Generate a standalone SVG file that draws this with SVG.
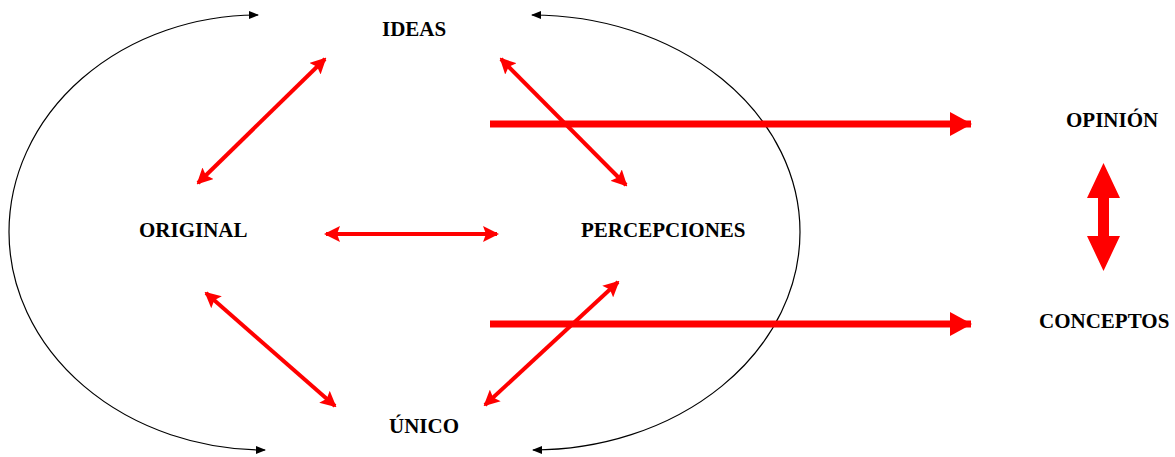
<svg xmlns="http://www.w3.org/2000/svg" width="1175" height="457" viewBox="0 0 1175 457">
<style>
.lbl{font-family:"Liberation Serif","Times New Roman",serif;font-weight:bold;font-size:21px;fill:#000}
.thin{stroke:#ff0000;stroke-width:4;fill:none}
.thick{stroke:#ff0000;stroke-width:7;fill:none}
.arc{stroke:#000;stroke-width:1.2;fill:none}
</style>
<defs>
<marker id="rh" markerUnits="userSpaceOnUse" viewBox="0 0 16 16" refX="14" refY="8" markerWidth="16" markerHeight="16" orient="auto-start-reverse">
<path d="M0,0 L16,8 L0,16 L3,8 Z" fill="#ff0000"/>
</marker>
<marker id="bh" markerUnits="userSpaceOnUse" viewBox="0 0 10 8" refX="9" refY="4" markerWidth="10" markerHeight="8" orient="auto-start-reverse">
<path d="M0,0 L10,4 L0,8 Z" fill="#000"/>
</marker>
<marker id="th" markerUnits="userSpaceOnUse" viewBox="0 0 22 24" refX="21" refY="12" markerWidth="22" markerHeight="24" orient="auto">
<path d="M0,0 L22,12 L0,24 Z" fill="#ff0000"/>
</marker>
</defs>
<g id="connectors">
<path class="arc" d="M258,15 A249,217 0 0 0 9,232 A256,218 0 0 0 265,450" marker-start="url(#bh)" marker-end="url(#bh)"/>
<path class="arc" d="M532,15 A268,217 0 0 1 800,232 A267,218 0 0 1 533,450" marker-start="url(#bh)" marker-end="url(#bh)"/>
<line class="thin" x1="198" y1="183" x2="325" y2="59" marker-start="url(#rh)" marker-end="url(#rh)"/>
<line class="thin" x1="501" y1="59" x2="626" y2="185" marker-start="url(#rh)" marker-end="url(#rh)"/>
<line class="thin" x1="326" y1="234" x2="497" y2="234" marker-start="url(#rh)" marker-end="url(#rh)"/>
<line class="thin" x1="206" y1="293" x2="335" y2="406" marker-start="url(#rh)" marker-end="url(#rh)"/>
<line class="thin" x1="618" y1="282" x2="485" y2="405" marker-start="url(#rh)" marker-end="url(#rh)"/>
<line class="thick" x1="490" y1="124" x2="971" y2="124" marker-end="url(#th)"/>
<line class="thick" x1="490" y1="324" x2="971" y2="324" marker-end="url(#th)"/>
<path d="M1103.5,163 L1120,198 L1109,198 L1109,236 L1120,236 L1103.5,271 L1087,236 L1098,236 L1098,198 L1087,198 Z" fill="#ff0000"/>
</g>
<g id="ideas"><text class="lbl" x="382" y="36">IDEAS</text></g>
<g id="original"><text class="lbl" x="139" y="237">ORIGINAL</text></g>
<g id="percepciones"><text class="lbl" x="581" y="237">PERCEPCIONES</text></g>
<g id="unico"><text class="lbl" x="389" y="433">ÚNICO</text></g>
<g id="opinion"><text class="lbl" x="1066" y="127">OPINIÓN</text></g>
<g id="conceptos"><text class="lbl" x="1039" y="328">CONCEPTOS</text></g>
</svg>
